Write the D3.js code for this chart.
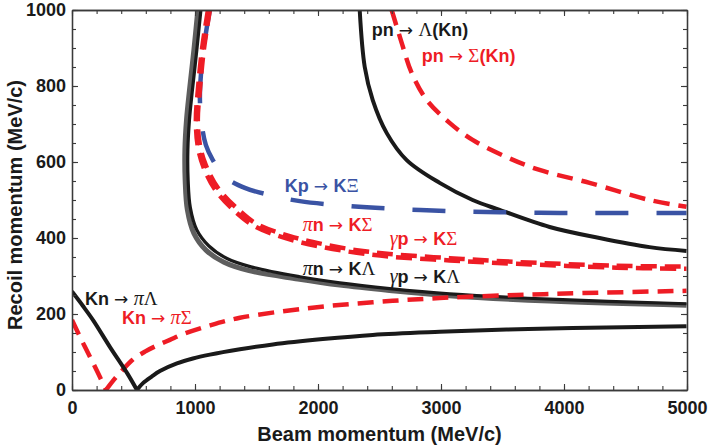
<!DOCTYPE html>
<html><head><meta charset="utf-8">
<script src="https://cdn.jsdelivr.net/npm/d3@7"></script>
<style>
body{margin:0;background:#fff}
text{font-family:"Liberation Sans",Arial,sans-serif;font-weight:bold}
</style>
</head><body><svg id="c" width="709" height="447"></svg>
<script>
// ---- data (beam momentum MeV/c, recoil momentum MeV/c) ----
const xTicks=[0,1000,2000,3000,4000,5000];
const yTicks=[0,200,400,600,800,1000];
const xTitle="Beam momentum (MeV/c)";
const yTitle="Recoil momentum (MeV/c)";

const pnLambda=[[2339,1000],[2380,850],[2445,763],[2559,676],[2721,605],[2989,545],[3257,500],[3477,474],[3883,429],[4289,400],[4695,376],[4996,366]];
const pnSigma=[[2599,1000],[2681,913],[2762,834],[2884,763],[3070,703],[3257,658],[3533,613],[3801,579],[4208,545],[4695,500],[4996,482]];
const kpXi=[[1121,1000],[1080,921],[1048,829],[1040,763],[1056,697],[1088,645],[1145,605],[1243,561],[1405,532],[1608,513],[1852,497],[2258,484],[2664,476],[3070,471],[3477,468],[3964,466],[4452,466],[4996,466]];
const gpKLambda=[[1048,1000],[1015,895],[979,789],[955,711],[942,632],[944,553],[962,480],[1015,421],[1113,379],[1260,346],[1455,324],[1852,298],[2177,282],[2583,267],[3070,253],[3883,239],[4996,227]];
const piKLambda=[[1023,1000],[991,895],[955,789],[931,711],[918,632],[920,553],[938,474],[991,412],[1089,368],[1236,336],[1439,314],[1836,292],[2177,276],[2583,262],[3070,248],[3883,234],[4996,223]];
const piKSigma=[[1121,1000],[1072,895],[1040,789],[1023,711],[1040,645],[1088,592],[1186,532],[1365,471],[1503,437],[1771,405],[2039,384],[2315,368],[2583,358],[3070,347],[3615,337],[4427,327],[4996,325]];
const gpKSigma=[[1105,1000],[1056,895],[1023,789],[1007,711],[1023,640],[1072,584],[1170,524],[1349,463],[1495,429],[1763,397],[2039,376],[2315,361],[2583,351],[3070,341],[3615,332],[4427,322],[4996,319]];
const knPiSigmaA=[[0,184],[89,124],[171,71],[227,34],[276,0]];
const knPiSigmaB=[[276,0],[333,24],[390,45],[495,80],[593,101],[690,117],[796,132],[902,147],[1121,170],[1365,190],[1909,215],[2445,231],[2989,242],[3615,250],[4151,255],[4996,261]];
const knPiLambdaA=[[0,259],[89,221],[171,184],[309,113],[447,45],[528,0]];
const knPiLambdaB=[[528,0],[577,18],[650,36],[715,50],[853,70],[983,83],[1121,93],[1365,107],[1633,120],[2039,134],[2445,145],[2989,153],[3533,159],[4070,163],[4996,168]];

// labels: [anchor beam, anchor recoil, parts, color]
const labels=[
 [2437,932,[["pn ","b"],["→ ","a"],["Λ","g"],["(Kn)","b"]],"#1a1a1a"],
 [2843,863,[["pn ","b"],["→ ","a"],["Σ","g"],["(Kn)","b"]],"#ee1c25"],
 [1730,521,[["Kp ","b"],["→ ","a"],["K","b"],["Ξ","g"]],"#3a53a4"],
 [1876,418,[["π","gi"],["n ","b"],["→ ","a"],["K","b"],["Σ","g"]],"#ee1c25"],
 [2583,382,[["γ","gi"],["p ","b"],["→ ","a"],["K","b"],["Σ","g"]],"#ee1c25"],
 [1876,303,[["π","gi"],["n ","b"],["→ ","a"],["K","b"],["Λ","g"]],"#1a1a1a"],
 [2583,282,[["γ","gi"],["p ","b"],["→ ","a"],["K","b"],["Λ","g"]],"#1a1a1a"],
 [106,224,[["Kn ","b"],["→ ","a"],["π","gi"],["Λ","g"]],"#1a1a1a"],
 [406,174,[["Kn ","b"],["→ ","a"],["π","gi"],["Σ","g"]],"#ee1c25"]
];

// ---- drawing ----
const svg=d3.select("#c");
const x=d3.scaleLinear().domain([0,5000]).range([72,687]);
const y=d3.scaleLinear().domain([0,1000]).range([390,10]);
const RED="#ee1c25", BLUE="#3a53a4", BLACK="#1a1a1a", GRAY="#5e5e5e";

svg.append("clipPath").attr("id","clip").append("rect")
  .attr("x",x(0)).attr("y",y(1000)).attr("width",x(5000)-x(0)).attr("height",y(0)-y(1000));

const line=d3.line().x(d=>x(d[0])).y(d=>y(d[1])).curve(d3.curveCatmullRom.alpha(0.5));
const g=svg.append("g").attr("clip-path","url(#clip)");
function draw(data,color,w,dash){
  g.append("path").datum(data).attr("d",line).attr("fill","none")
   .attr("stroke",color).attr("stroke-width",w).attr("stroke-dasharray",dash||null)
   .attr("stroke-linejoin","round");
}
draw(pnSigma,RED,4.5,"16,9");
draw(pnLambda,BLACK,4);
draw(kpXi,BLUE,4.5,"33,28");
draw(gpKSigma,RED,4.5,"16,8");
draw(piKSigma,RED,4.5,"16,8");
draw(piKLambda,GRAY,5);
draw(gpKLambda,BLACK,3.2);
draw(knPiSigmaA,RED,4.5,"16,9");
draw(knPiSigmaB,RED,4.5,"16,9");
draw(knPiLambdaA,BLACK,4);
draw(knPiLambdaB,BLACK,4);

// axes
const minorX=d3.range(0,5001,200), minorY=d3.range(0,1001,50);
function axis(gen,tr,vals,size,fmt,pad){
  const a=svg.append("g").attr("transform",tr)
   .call(gen.tickValues(vals).tickSizeInner(-size).tickSizeOuter(0).tickPadding(pad||6).tickFormat(fmt));
  a.selectAll("path.domain").attr("stroke","#3a3a3a").attr("stroke-width",1.3);
  a.selectAll(".tick line").attr("stroke","#3a3a3a").attr("stroke-width",1.1);
  a.selectAll("text").attr("font-size",18).attr("fill","#1a1a1a")
   .style("font-family","'Liberation Sans',Arial,sans-serif").style("font-weight","bold");
  return a;
}
const none=()=>"";
axis(d3.axisBottom(x),`translate(0,${y(0)})`,minorX,4,none);
axis(d3.axisTop(x),`translate(0,${y(1000)})`,minorX,4,none);
axis(d3.axisLeft(y),`translate(${x(0)},0)`,minorY,4,none);
axis(d3.axisRight(y),`translate(${x(5000)},0)`,minorY,4,none);
axis(d3.axisBottom(x),`translate(0,${y(0)})`,xTicks,6,d3.format("d"),11);
axis(d3.axisTop(x),`translate(0,${y(1000)})`,xTicks,6,none);
axis(d3.axisLeft(y),`translate(${x(0)},0)`,yTicks,6,d3.format("d"),6);
axis(d3.axisRight(y),`translate(${x(5000)},0)`,yTicks,6,none);

svg.append("text").attr("x",(x(0)+x(5000))/2).attr("y",441).attr("text-anchor","middle")
  .attr("font-size",20).attr("fill","#1a1a1a").text(xTitle);
svg.append("text").attr("transform",`translate(22,${(y(0)+y(1000))/2+5}) rotate(-90)`)
  .attr("text-anchor","middle").attr("font-size",20).attr("fill","#1a1a1a").text(yTitle);

// curve labels
labels.forEach(([bx,ry,parts,color])=>{
  const t=svg.append("text").attr("x",x(bx)).attr("y",y(ry)).attr("fill",color).attr("font-size",18);
  parts.forEach(([s,st])=>{
    const ts=t.append("tspan").text(s);
    if(st==="g") ts.style("font-family","'Liberation Serif','Times New Roman',serif").style("font-weight","normal").attr("font-size",19);
    if(st==="gi") ts.style("font-family","'Liberation Serif','Times New Roman',serif").style("font-style","italic").style("font-weight","normal").attr("font-size",20);
    if(st==="a") ts.style("font-family","'DejaVu Sans',sans-serif").style("font-weight","normal").attr("font-size",17);
  });
});
</script></body></html>
